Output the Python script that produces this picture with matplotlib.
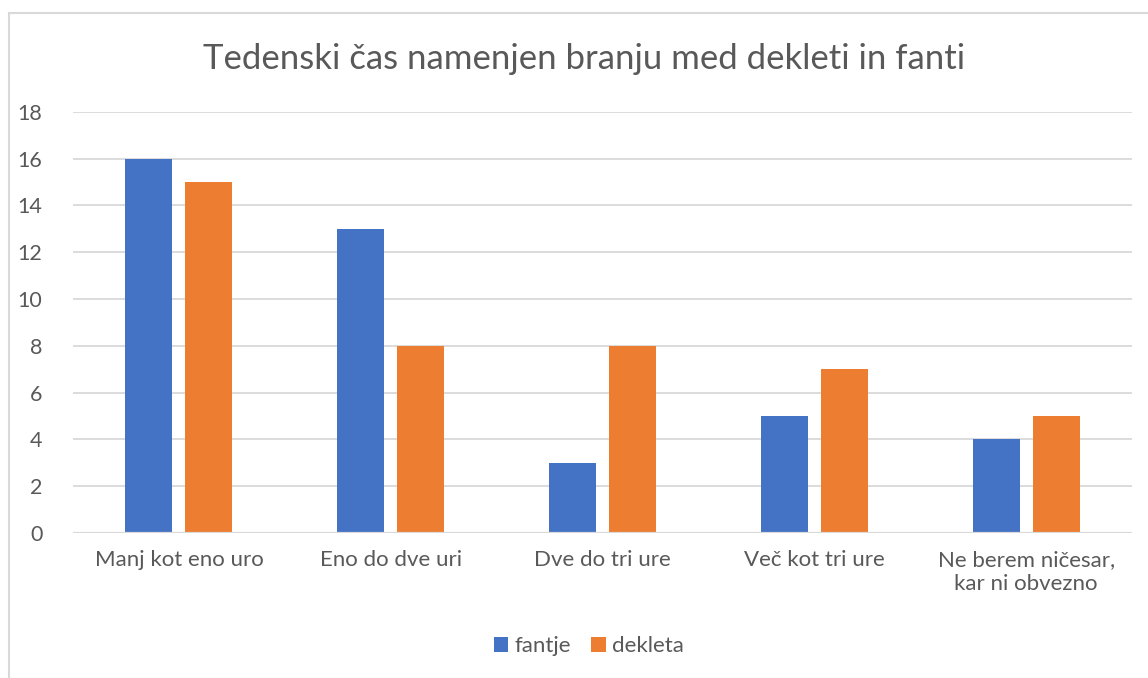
import matplotlib
matplotlib.use("Agg")
import matplotlib.pyplot as plt
import numpy as np
from matplotlib.patches import Rectangle

# data
categories = ["Manj kot eno uro", "Eno do dve uri", "Dve do tri ure",
              "Več kot tri ure", "Ne berem ničesar,\nkar ni obvezno"]
fantje = [16, 13, 3, 5, 4]
dekleta = [15, 8, 8, 7, 5]
yticks = [0, 2, 4, 6, 8, 10, 12, 14, 16, 18]

blue = "#4472C4"
orange = "#ED7D31"
txt = "#595959"
grid = "#D9D9D9"

plt.rcParams['font.family'] = ['Lato', 'DejaVu Sans']

fig = plt.figure(figsize=(11.48, 6.78), dpi=100)
ax = fig.add_axes([73/1148, 1-533/678, (1132-73)/1148, (533-111.7)/678])

x = np.arange(len(categories))
w = 0.222
off = 0.1417
ax.bar(x - off, fantje, w, color=blue, label="fantje", zorder=3)
ax.bar(x + off, dekleta, w, color=orange, label="dekleta", zorder=3)

ax.set_xlim(-0.5, len(categories) - 0.5)
ax.set_ylim(0, 18)
ax.set_yticks(yticks)
ax.set_xticks(x)
ax.set_xticklabels(categories, fontsize=16, color=txt, linespacing=1.25)
ax.tick_params(axis='y', labelsize=15.5, labelcolor=txt, length=0, pad=22)
ax.tick_params(axis='x', length=0, pad=12)
ax.grid(axis='y', color=grid, lw=1.3, zorder=0)
for s in ax.spines.values():
    s.set_visible(False)
ax.axhline(0, color=grid, lw=1.6, zorder=4)

fig.text(0.509, 1-59/678, "Tedenski čas namenjen branju med dekleti in fanti",
         ha='center', va='center', fontsize=25, color=txt)

fig.legend(loc='center', bbox_to_anchor=(0.513, 1-646/678), ncol=2, frameon=False,
           fontsize=16, labelcolor=txt, handlelength=0.65, handleheight=0.65,
           handletextpad=0.3, columnspacing=0.9)

# chart area border (only left and top edges visible in the crop)
fig.patches.append(Rectangle((9/1148, -0.5), 1.5, 0.5 + 1-13/678,
                             transform=fig.transFigure, fill=False,
                             ec=grid, lw=1.5))

fig.savefig("out.png", dpi=100)
